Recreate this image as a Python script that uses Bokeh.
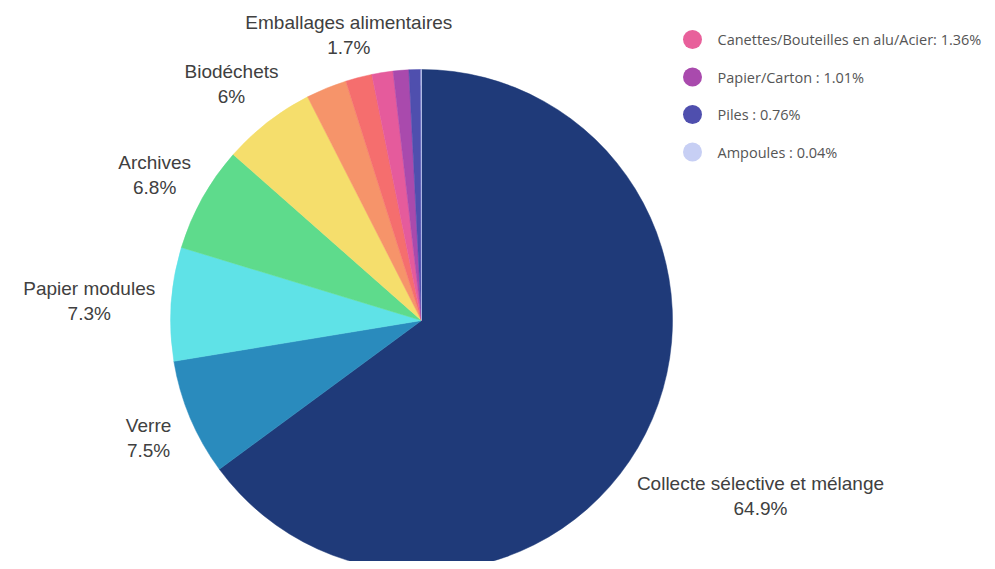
import math
from bokeh.plotting import figure
from bokeh.models import ColumnDataSource, Range1d
from bokeh.core.properties import value
from bokeh.embed import file_html
from bokeh.resources import INLINE

# ---- data (clockwise from 12 o'clock) ----
categories = ["Collecte sélective et mélange", "Verre", "Papier modules", "Archives",
              "Biodéchets", "Autres", "Emballages alimentaires",
              "Canettes/Bouteilles en alu/Acier", "Papier/Carton", "Piles", "Ampoules"]
shares = [64.9, 7.5, 7.3, 6.8, 6.0, 2.63, 1.7, 1.36, 1.01, 0.76, 0.04]
pct_labels = ["64.9%", "7.5%", "7.3%", "6.8%", "6%", "", "1.7%", "", "", "", ""]
colors = ["#1f3a79", "#2a8bbd", "#5fe2e7", "#5edb8c", "#f5de6c", "#f6946a", "#f56e6e",
          "#e55b9c", "#a94aad", "#4f4fae", "#c7cff4"]
legend_names = ["Canettes/Bouteilles en alu/Acier: 1.36%", "Papier/Carton : 1.01%",
                "Piles : 0.76%", "Ampoules : 0.04%"]
legend_colors = ["#e8609b", "#a94aad", "#4f4fae", "#c7cff4"]

# layout-only nudges for label placement (pixels)
label_dx = {"Collecte sélective et mélange": -14, "Verre": -8, "Papier modules": -5,
            "Archives": -4}
label_dy = {"Collecte sélective et mélange": -40, "Emballages alimentaires": -4}

W, H = 987, 561
p = figure(width=W, height=H, output_backend="svg", toolbar_location=None,
           x_range=Range1d(0, W), y_range=Range1d(0, H), min_border=0)
p.axis.visible = False
p.grid.visible = False
p.outline_line_color = None

cx, cy, R = 421, H - 320, 251
total = sum(shares)
starts, ends, mids = [], [], []
cum = 0.0
for s in shares:
    a0 = cum / total
    cum += s
    a1 = cum / total
    starts.append(math.pi / 2 - 2 * math.pi * a1)
    ends.append(math.pi / 2 - 2 * math.pi * a0)
    mids.append(math.pi / 2 - 2 * math.pi * (a0 + a1) / 2)

src = ColumnDataSource(dict(x=[cx] * len(shares), y=[cy] * len(shares),
                            start=starts, end=ends, color=colors))
p.wedge(x="x", y="y", radius=R, start_angle="start", end_angle="end",
        direction="anticlock", fill_color="color", line_color="color",
        line_width=0.5, source=src)

# data labels
lx, ly1, ly2, names, pcts = [], [], [], [], []
for name, pct, m in zip(categories, pct_labels, mids):
    if not pct:
        continue
    c, s = math.cos(m), math.sin(m)
    edge_x = cx + 265 * c
    y = cy + 300 * s + label_dy.get(name, 0)
    half = len(name) * 9.0 / 2
    sign = 1 if c >= 0 else -1
    w = abs(c) if abs(c) > 0.5 else c * c
    x = edge_x + sign * half * w + label_dx.get(name, 0)
    lx.append(x)
    ly1.append(y + 12)
    ly2.append(y - 13)
    names.append(name)
    pcts.append(pct)

p.text(x=lx, y=ly1, text=names, text_align="center", text_baseline="middle",
       text_font=value("Liberation Sans"), text_font_size="19px", text_color="#404040")
p.text(x=lx, y=ly2, text=pcts, text_align="center", text_baseline="middle",
       text_font=value("Liberation Sans"), text_font_size="19px", text_color="#404040")

# legend (custom)
leg_y = [H - 39 - 37.5 * i for i in range(len(legend_names))]
p.scatter(x=[692] * len(leg_y), y=leg_y, size=19, marker="circle",
          fill_color=legend_colors, line_color=None)
p.text(x=[717] * len(leg_y), y=leg_y, text=legend_names, text_align="left",
       text_baseline="middle", text_font=value("Open Sans"), text_font_size="14.5px",
       text_color="#555555")

open("out.html", "w").write(file_html(p, INLINE))
